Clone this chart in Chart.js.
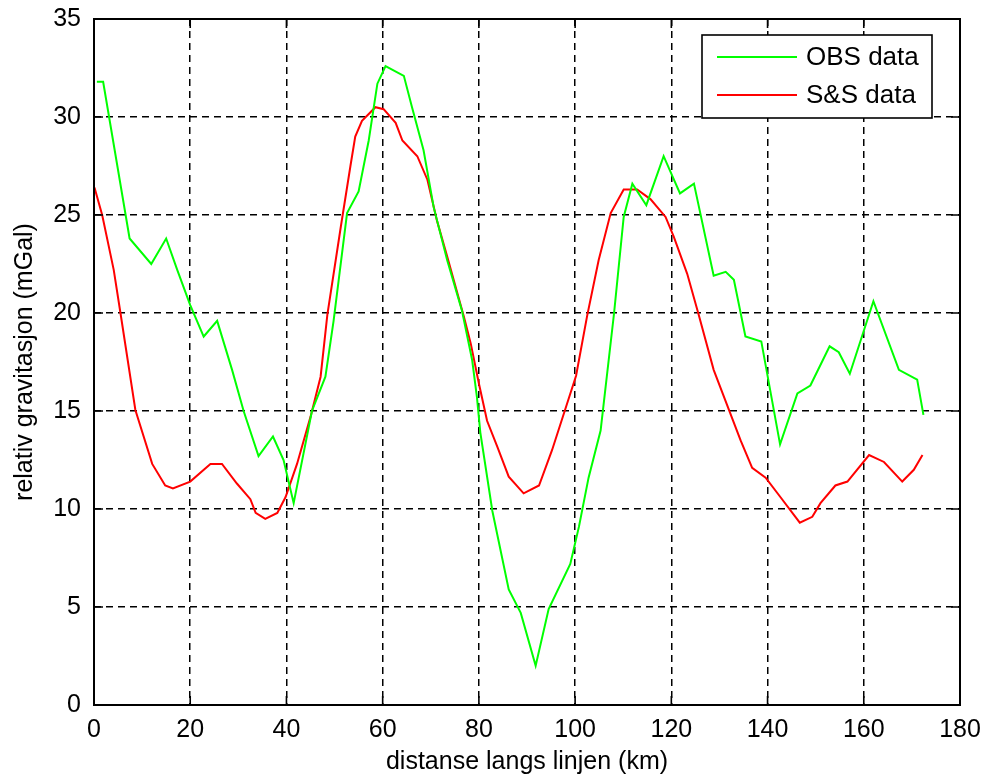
<!DOCTYPE html>
<html>
<head>
<meta charset="utf-8">
<script src="https://cdn.jsdelivr.net/npm/chart.js@4"></script>
<style>
    html, body { margin: 0; padding: 0; background: #fff; }
    #wrap { width: 985px; height: 776px; }
</style>
</head>
<body>
<div id="wrap"><canvas id="gravChart" width="985" height="776"></canvas></div>
<script>
// OBS data (green)
const obsKm = [0.6, 1.9, 7.4, 11.9, 15.0, 17.3, 20.0, 22.8, 25.6, 28.7, 31.1, 34.2, 37.2, 39.4, 41.5,
    45.3, 48.1, 49.8, 52.6, 55.0, 57.1, 58.9, 60.6, 64.4, 66.1, 68.5, 70.6, 73.4, 76.5, 78.6,
    79.6, 80.3, 82.8, 86.2, 88.7, 91.8, 94.5, 99.0, 100.8, 102.8, 105.3, 108.1, 110.1, 111.9, 114.8,
    118.4, 121.8, 124.7, 128.8, 131.3, 133.0, 135.4, 138.7, 142.6, 146.2, 148.9, 152.9, 154.8, 157.1,
    162.0, 167.3, 171.1, 172.4];
const obsVal = [31.8, 31.8, 23.8, 22.5, 23.8, 22.2, 20.4, 18.8, 19.6, 17.1, 15.0, 12.7, 13.7, 12.5, 10.3,
    15.0, 16.75, 19.6, 25.1, 26.2, 28.8, 31.7, 32.6, 32.1, 30.5, 28.3, 25.4, 22.7, 20.1, 17.6,
    15.7, 13.9, 9.9, 5.9, 4.7, 2.0, 4.9, 7.2, 9.1, 11.6, 14.0, 20.0, 24.9, 26.6, 25.5,
    28.0, 26.1, 26.6, 21.9, 22.1, 21.7, 18.8, 18.55, 13.3, 15.9, 16.3, 18.3, 18.0, 16.9,
    20.6, 17.1, 16.6, 14.8];

// S&S data (red)
const ssKm = [0.1, 1.7, 4.1, 5.5, 8.6, 12.1, 14.8, 16.4, 20.0, 24.2, 26.6, 29.7, 32.5, 33.6, 35.6,
    38.1, 39.8, 42.2, 45.0, 47.1, 48.5, 51.3, 53.3, 54.3, 55.7, 58.5, 60.2, 62.7, 64.1, 67.2,
    69.3, 71.3, 73.4, 76.9, 78.3, 80.0, 81.7, 83.8, 86.2, 89.3, 92.5, 95.2, 97.7, 100.2, 102.5,
    104.9, 107.4, 110.1, 112.9, 115.7, 118.8, 120.5, 123.3, 125.7, 128.8, 134.4, 136.8, 139.6, 142.7,
    146.7, 149.3, 151.0, 154.1, 156.6, 161.1, 164.2, 168.0, 170.4, 172.2];
const ssVal = [26.4, 25.0, 22.2, 20.0, 15.05, 12.3, 11.2, 11.05, 11.4, 12.3, 12.3, 11.3, 10.5, 9.8, 9.5,
    9.8, 10.6, 12.3, 14.7, 16.75, 19.9, 24.4, 27.5, 29.0, 29.8, 30.5, 30.4, 29.7, 28.8, 28.0,
    26.8, 24.7, 22.9, 19.8, 18.45, 16.4, 14.5, 13.2, 11.65, 10.8, 11.2, 13.0, 14.9, 16.8, 19.85,
    22.7, 25.1, 26.3, 26.3, 25.8, 24.9, 23.9, 22.0, 19.9, 17.1, 13.5, 12.1, 11.6, 10.6,
    9.3, 9.6, 10.3, 11.2, 11.4, 12.75, 12.4, 11.4, 12.0, 12.75];

const seriesNames = ["OBS data", "S&S data"];
const seriesColors = ["#00ff00", "#ff0000"];
const xTicks = [0, 20, 40, 60, 80, 100, 120, 140, 160, 180];
const yTicks = [0, 5, 10, 15, 20, 25, 30, 35];

const FONT = "'Liberation Sans', Arial, sans-serif";

const toPoints = (xs, ys) => xs.map((x, i) => ({ x, y: ys[i] }));

// no extra room for overhanging tick labels, the layout padding handles it
const noOverhang = (s) => {
    s.paddingTop = 0;
    s.paddingBottom = 0;
    s.paddingLeft = 0;
    s.paddingRight = 0;
};

// matlab style box, inward ticks and legend
const matlabFrame = {
    id: "matlabFrame",
    afterDraw(chart) {
        const { ctx, chartArea: a, scales } = chart;
        const tl = 9;
        ctx.save();
        ctx.strokeStyle = "#000";
        ctx.lineWidth = 1.6;
        ctx.beginPath();
        xTicks.forEach((t) => {
            const px = scales.x.getPixelForValue(t);
            ctx.moveTo(px, a.bottom); ctx.lineTo(px, a.bottom - tl);
            ctx.moveTo(px, a.top); ctx.lineTo(px, a.top + tl);
        });
        yTicks.forEach((t) => {
            const py = scales.y.getPixelForValue(t);
            ctx.moveTo(a.left, py); ctx.lineTo(a.left + tl, py);
            ctx.moveTo(a.right, py); ctx.lineTo(a.right - tl, py);
        });
        ctx.stroke();
        ctx.lineWidth = 2;
        ctx.strokeRect(a.left, a.top, a.right - a.left, a.bottom - a.top);

        // legend
        const lx = 702, ly = 35, lw = 230, lh = 83;
        ctx.fillStyle = "#fff";
        ctx.fillRect(lx, ly, lw, lh);
        ctx.lineWidth = 1.6;
        ctx.strokeRect(lx, ly, lw, lh);
        ctx.font = "26px " + FONT;
        ctx.textBaseline = "middle";
        ctx.textAlign = "left";
        seriesNames.forEach((name, i) => {
            const yy = ly + 22 + i * 38;
            ctx.strokeStyle = seriesColors[i];
            ctx.lineWidth = 2;
            ctx.beginPath();
            ctx.moveTo(lx + 15, yy); ctx.lineTo(lx + 95, yy);
            ctx.stroke();
            ctx.fillStyle = "#000";
            ctx.fillText(name, lx + 104, yy + 1);
        });
        ctx.restore();
    },
};

const ctx = document.getElementById("gravChart").getContext("2d");
new Chart(ctx, {
    type: "line",
    data: {
        datasets: [
            { label: seriesNames[0], data: toPoints(obsKm, obsVal), borderColor: seriesColors[0], borderWidth: 2, pointRadius: 0, tension: 0, fill: false },
            { label: seriesNames[1], data: toPoints(ssKm, ssVal), borderColor: seriesColors[1], borderWidth: 2, pointRadius: 0, tension: 0, fill: false },
        ],
    },
    options: {
        responsive: false,
        animation: false,
        layout: { padding: { top: 19, right: 25, bottom: 0, left: 0 } },
        plugins: { legend: { display: false }, tooltip: { enabled: false } },
        scales: {
            x: {
                type: "linear",
                min: 0,
                max: 180,
                afterFit: (s) => { s.height = 71; noOverhang(s); },
                afterBuildTicks: (s) => { s.ticks = xTicks.map((v) => ({ value: v })); },
                grid: { color: "#000", lineWidth: 1.5, drawTicks: false },
                border: { display: false, dash: [7, 5] },
                ticks: { color: "#000", padding: 10, maxRotation: 0, font: { family: FONT, size: 25 } },
                title: { display: true, text: "distanse langs linjen (km)", color: "#000", font: { family: FONT, size: 25, lineHeight: 1 }, padding: { top: 0, bottom: 1 } },
            },
            y: {
                min: 0,
                max: 35,
                afterFit: (s) => { s.width = 94; noOverhang(s); },
                afterBuildTicks: (s) => { s.ticks = yTicks.map((v) => ({ value: v })); },
                grid: { color: "#000", lineWidth: 1.5, drawTicks: false },
                border: { display: false, dash: [7, 5] },
                ticks: { color: "#000", padding: 13, font: { family: FONT, size: 25 } },
                title: { display: true, text: "relativ gravitasjon (mGal)", color: "#000", font: { family: FONT, size: 25, lineHeight: 1 }, padding: { top: 13, bottom: 0 } },
            },
        },
    },
    plugins: [matlabFrame],
});
</script>
</body>
</html>
